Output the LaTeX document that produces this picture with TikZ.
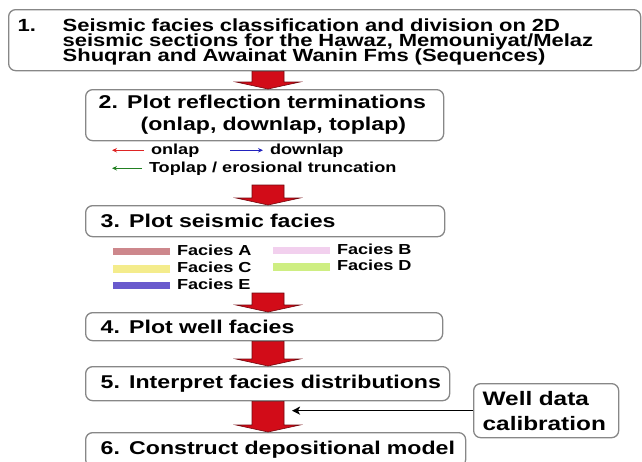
\documentclass[tikz,border=0pt]{standalone}
\usepackage{fontspec}
\setmainfont{Liberation Sans}[FakeStretch=1.25]
\usepackage{xcolor}
\usetikzlibrary{calc}
\usetikzlibrary{arrows.meta}

\definecolor{boxgray}{RGB}{135,135,135}
\definecolor{arrowred}{RGB}{210,12,24}
\definecolor{onlapred}{RGB}{222,36,36}
\definecolor{downlapblue}{RGB}{34,34,190}
\definecolor{toplapgreen}{RGB}{34,128,34}
\definecolor{faciesA}{RGB}{205,135,140}
\definecolor{faciesB}{RGB}{242,208,238}
\definecolor{faciesC}{RGB}{244,236,140}
\definecolor{faciesD}{RGB}{206,238,130}
\definecolor{faciesE}{RGB}{105,90,205}

\newcommand{\tightlines}{\lineskiplimit=-100pt\relax}
% big red arrow between two steps: #1 start, #2 tip
\newcommand{\flowarrow}[2]{%
  \path #1 coordinate (fa-s) #2 coordinate (fa-t);
  \filldraw[bigarrow] ($(fa-s)+(-16,0)$) -- ($(fa-s)+(16,0)$) -- ($(fa-t)+(16,-7)$)
    -- ($(fa-t)+(32,-7)$) -- (fa-t) -- ($(fa-t)+(-32,-7)$) -- ($(fa-t)+(-16,-7)$) -- cycle;}

\begin{document}
\begin{tikzpicture}[x=1pt,y=-1pt,
  stepbox/.style={draw=boxgray,line width=1.3pt,rounded corners=7pt,fill=white,
    anchor=north west,inner xsep=15pt,inner ysep=0pt,align=left,
    font=\fontsize{18.5}{22}\selectfont\bfseries},
  legtext/.style={anchor=base west,inner sep=0pt,outer xsep=7pt,text height=10.5pt,
    text depth=3pt,font=\fontsize{14.5}{17}\selectfont\bfseries},
  termarrow/.style={line width=1.4pt,-{Stealth[length=5pt,width=4.5pt]}},
  swatch/.style={line width=7.5pt},
  bigarrow/.style={fill=arrowred,draw=arrowred!55!black,line width=0.6pt},
  calarrow/.style={line width=1.5pt,-{Stealth[length=8pt,width=8pt,inset=2pt]}}]
		\useasboundingbox (0,0) rectangle (642,461);
		\clip (0,0) rectangle (642,461);
		\coordinate (ax) at (268,0);
		\coordinate (legL) at (112,0);
		\coordinate (legR) at (230,0);
		\coordinate (wellTip) at (292,0);
		\coordinate (a2) at (268,185);
		\coordinate (a3) at (268,293);
		\node[stepbox,inner xsep=9pt,minimum width=632pt,minimum height=61pt,text width=614pt,
			font=\fontsize{17.6}{15}\selectfont\bfseries\tightlines] (s1) at (8,9)
			{\rule{0pt}{16.5pt}\makebox[45pt][l]{1.}Seismic facies classification and division on 2D\\
			 \hspace*{45pt}seismic sections for the Hawaz, Memouniyat/Melaz\\
			 \hspace*{45pt}Shuqran and Awainat Wanin Fms (Sequences)};
		\node[stepbox,inner xsep=13pt,minimum width=358pt,minimum height=51pt,text width=332pt] (s2) at (85,89)
			{2. Plot reflection terminations\\\hspace*{42pt}(onlap, downlap, toplap)};
		\node[stepbox,minimum width=359pt,minimum height=31pt,text width=329pt] (s3) at (85,205)
			{3. Plot seismic facies};
		\node[stepbox,minimum width=357pt,minimum height=28pt,text width=327pt] (s4) at (85,312)
			{4. Plot well facies};
		\node[stepbox,minimum width=364pt,minimum height=34pt,text width=334pt] (s5) at (85,366)
			{\mbox{5. Interpret facies distributions}};
		\node[stepbox,minimum width=380pt,minimum height=34pt,text width=350pt] (s6) at (85,432)
			{\mbox{6. Construct depositional model}};
		\node[stepbox,inner xsep=9pt,minimum width=145pt,minimum height=54pt,text width=127pt,
			font=\fontsize{19.5}{25}\selectfont\bfseries] (well) at (473,383)
			{Well data\\calibration};
		% red arrows
		\flowarrow{(s1.south -| ax)}{(s2.north -| ax)}
		\flowarrow{(a2)}{(s3.north -| ax)}
		\flowarrow{(a3)}{(s4.north -| ax)}
		\flowarrow{(s4.south -| ax)}{(s5.north -| ax)}
		\flowarrow{(s5.south -| ax)}{(s6.north -| ax)}
		\draw[calarrow] (well.west) -- (well.west -| wellTip);
		% reflection terminations
		\node[legtext] (onlapLbl) at (144,154) {onlap};
		\node[legtext] (downlapLbl) at (263,154) {downlap};
		\node[legtext] (toplapLbl) at (142,172) {Toplap / erosional truncation};
		\draw[termarrow,onlapred] (onlapLbl.west) -- (onlapLbl.west -| legL);
		\draw[termarrow,downlapblue] (downlapLbl.west -| legR) -- (downlapLbl.west);
		\draw[termarrow,toplapgreen] (toplapLbl.west) -- (toplapLbl.west -| legL);
		% seismic facies
		\node[legtext] (facA) at (170,255) {Facies A};
		\node[legtext] (facC) at (170,272.7) {Facies C};
		\node[legtext] (facE) at (170,289.3) {Facies E};
		\node[legtext] (facB) at (330,254.3) {Facies B};
		\node[legtext] (facD) at (330,270.7) {Facies D};
		\draw[swatch,faciesA] (facA.west) -- +(-57,0);
		\draw[swatch,faciesC] (facC.west) -- +(-57,0);
		\draw[swatch,faciesE] (facE.west) -- +(-57,0);
		\draw[swatch,faciesB] (facB.west) -- +(-57,0);
		\draw[swatch,faciesD] (facD.west) -- +(-57,0);
\end{tikzpicture}
\end{document}
